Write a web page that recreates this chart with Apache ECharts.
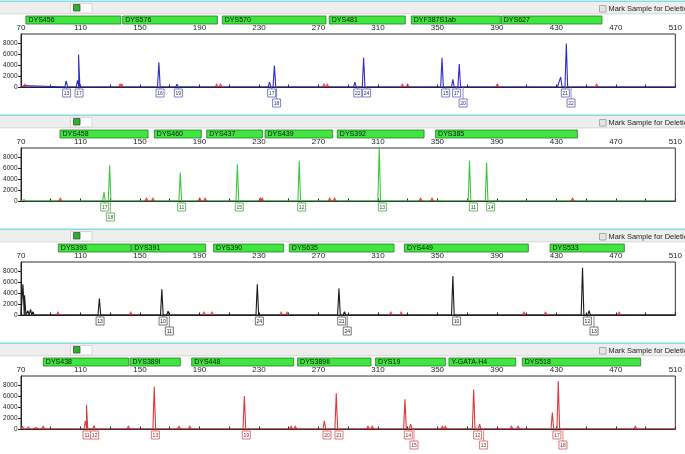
<!DOCTYPE html>
<html><head><meta charset="utf-8">
<script src="https://cdn.jsdelivr.net/npm/echarts@6/dist/echarts.min.js"></script>
<style>html,body{margin:0;padding:0;background:#fff}#c{width:685px;height:454px}</style>
</head><body><div id="c"></div>
<script>
// ---------- shared axis data ----------
const X_MIN = 70, X_MAX = 510;
const xTickValues = [70,90,110,130,150,170,190,210,230,250,270,290,310,330,350,370,390,410,430,450,470,490,510];
const xLabelValues = [70,110,150,190,230,270,310,350,390,430,470,510];
const yLabelValues = [0,2000,4000,6000,8000];
const Y_MAX = 9640;

// ---------- panel 1 (blue) ----------
const blueLoci = ['DYS456','DYS576','DYS570','DYS481','DYF387S1ab','DYS627'];
const blueLociStart = [73.3,137.8,204.2,275.5,330.2,390.2];
const blueLociEnd   = [136.6,200.9,273.3,326.2,389.5,457.3];
const bluePeakBp     = [72,   100.4,108.0,108.7,162.7,174.9,216, 237.1,240.4,294.5,300.4,349, 353.1,360.4,364.7,429.8,432.9,436.7];
const bluePeakHeight = [250,  1100, 1200, 5900, 4500, 500,  150, 900,  3900, 900,  5300, 200, 5300, 1400, 4200, 200,  1800, 7900];
const blueAllele     = ['',   '13', '',   '17', '16', '19', '',  '17', '18', '22', '24', '',  '15', '17', '20', '',   '21', '22'];
const blueRow        = [0,    1,    0,    1,    1,    1,    0,   1,    2,    1,    1,    0,   1,    1,    2,    0,    1,    2];
const blueBins = [72.7,136.6,137.8,201.6,204.2,273.8,276,326.4,330,390.2,457.1];

// ---------- panel 2 (green) ----------
const greenLoci = ['DYS458','DYS460','DYS437','DYS439','DYS392','DYS385'];
const greenLociStart = [96,158.9,193.8,232.7,280.9,346.4];
const greenLociEnd   = [154.7,190.2,230.9,277.8,338.7,440.9];
const greenPeakBp     = [72,  74.5, 102.7,125.8,129.6,177.1,215.5,257.1,303, 310.9,371.6,383.1,447];
const greenPeakHeight = [250, 200,  300,  1600, 6500, 5200, 6700, 7300, 200, 9900, 7300, 7000, 150];
const greenAllele     = ['',  '',   '',   '17', '18', '11', '15', '12', '',  '13', '11', '14', ''];
const greenRow        = [0,   0,    0,    1,    2,    1,    1,    1,    0,   1,    1,    1,    0];
const greenBins = [96.4,154.4,158.7,190.2,193.8,231,232.2,277.6,280.9,338.7,346.4,440.9];

// ---------- panel 3 (black) ----------
const blackLoci = ['DYS393','DYS391','DYS390','DYS635','DYS449','DYS533'];
const blackLociStart = [94.9,143.8,198.4,248.9,325.6,422.7];
const blackLociEnd   = [143.3,193.1,245.1,318.7,408.2,472.2];
const blackPeakBp     = [71.3, 72.4, 74.6, 76.4, 78,  118.2,122.7,164.7,168.9,228.9,283.8,287.5,310.8,352.7,360.4,447.6,452];
const blackPeakHeight = [5600, 3600, 800,  1000, 600, 200,  3000, 4700, 700,  5600, 4800, 600,  150,  200,  7100, 8600, 800];
const blackAllele     = ['',   '',   '',   '',   '',  '',   '13', '10', '11', '24', '21', '24', '',   '',   '10', '12', '13'];
const blackRow        = [0,    0,    0,    0,    0,   0,    1,    1,    2,    1,    1,    2,    0,    0,    1,    1,    2];
const blackBins = [94.9,143.8,193.1,198.4,244.9,248.9,318.7,325.6,408.2,422.7,472.2];

// ---------- panel 4 (red) ----------
const redLoci = ['DYS438','DYS389I','DYS448','DYS389II','DYS19','Y-GATA-H4','DYS518'];
const redLociStart = [84.9,142.7,183.8,254.4,306.4,355.3,404.2];
const redLociEnd   = [141.8,176.2,251.8,303.3,352.9,399.8,483.1];
const redPeakBp     = [71,  73,  75,  77,  80,  83,  113.3,114,  119.1,159.6,214.9,220.2,274, 282, 324.9,328.2,332, 374.4,378.4,427.3,431.3];
const redPeakHeight = [500, 300, 400, 300, 250, 200, 1500, 4400, 600,  7700, 150,  6000, 1500,6500,300,  5400, 900, 7200, 900,  3000, 8700];
const redAllele     = ['',  '',  '',  '',  '',  '',  '',   '11', '12', '13', '',   '19', '20','21', '',   '14', '15','12', '13', '17', '18'];
const redRow        = [0,   0,   0,   0,   0,   0,   0,    1,    1,    1,    0,    1,    1,   1,   0,    1,    2,   1,    2,    1,    2];
const redBins = [84.9,142.2,176.2,183.5,251.6,254.4,303.3,306.2,353.3,355.3,399.8,404.2,483.1];

// ---------- build ----------
const FONT = 'Liberation Sans, Arial, sans-serif';
const panels = [
  {loci:blueLoci, ls:blueLociStart, le:blueLociEnd, bp:bluePeakBp, h:bluePeakHeight, al:blueAllele, row:blueRow, bins:blueBins,
   color:'#2c2cd2', box:'#5a62b4', txt:'#2a2a70'},
  {loci:greenLoci, ls:greenLociStart, le:greenLociEnd, bp:greenPeakBp, h:greenPeakHeight, al:greenAllele, row:greenRow, bins:greenBins,
   color:'#3fc83f', box:'#4aa84a', txt:'#1d5a1d'},
  {loci:blackLoci, ls:blackLociStart, le:blackLociEnd, bp:blackPeakBp, h:blackPeakHeight, al:blackAllele, row:blackRow, bins:blackBins,
   color:'#1a1a1a', box:'#555555', txt:'#222222'},
  {loci:redLoci, ls:redLociStart, le:redLociEnd, bp:redPeakBp, h:redPeakHeight, al:redAllele, row:redRow, bins:redBins,
   color:'#e0383a', box:'#d85858', txt:'#8a1e1e'}
];

const HALF = 0.9;
function traceData(bp, h) {
  const idx = bp.map((_, i) => i).sort((a, b) => bp[a] - bp[b]);
  const pts = [[X_MIN, 0]];
  idx.forEach(i => { pts.push([bp[i] - HALF, 0], [bp[i], h[i]], [bp[i] + HALF, 0]); });
  pts.push([X_MAX, 0]);
  return pts;
}

const grids = [], xAxes = [], yAxes = [], series = [], graphics = [];
const PANEL_STEP = 114;

panels.forEach((p, k) => {
  const T = PANEL_STEP * k;
  // chrome
  graphics.push(
    {type:'rect', shape:{x:0, y:T+2, width:685, height:12}, style:{fill:'#eeeeee'}, silent:true},
    {type:'rect', shape:{x:0, y:T+0.5, width:685, height:1.6}, style:{fill:'#86dbe4'}, silent:true},
    {type:'rect', shape:{x:0, y:T+13.5, width:685, height:0.8}, style:{fill:'#d0d0d0'}, silent:true},
    {type:'rect', shape:{x:70.5, y:T+3.5, width:21.5, height:9.5}, style:{fill:'#ffffff', stroke:'#cfcfcf', lineWidth:0.8}, silent:true},
    {type:'rect', shape:{x:73.5, y:T+4.5, width:6.5, height:6.5}, style:{fill:'#22b822', stroke:'#4a4a4a', lineWidth:0.8}, silent:true},
    {type:'rect', shape:{x:599.5, y:T+5.5, width:6.5, height:6.5}, style:{fill:'#e6e6e6', stroke:'#9a9a9a', lineWidth:0.8}, silent:true},
    {type:'text', x:608.5, y:T+8.8, style:{text:'Mark Sample for Deletion', font:'7.4px ' + FONT, fill:'#222', verticalAlign:'middle'}, silent:true}
  );
  const gPlot = grids.length;
  grids.push({left:21, right:4, top:T+34, height:53, show:true, borderColor:'#333', borderWidth:1, backgroundColor:'#fff'});
  grids.push({left:21, right:4, top:T+16, height:8});
  grids.push({left:21, right:4, top:T+83, height:20});

  xAxes.push({gridIndex:gPlot, type:'value', min:X_MIN, max:X_MAX, position:'top',
    axisLine:{show:true, lineStyle:{color:'#222', width:1}},
    axisTick:{show:true, customValues:xTickValues, length:2.5, lineStyle:{color:'#222'}},
    axisLabel:{customValues:xLabelValues, fontSize:8, color:'#222', margin:2.5, fontFamily:FONT,
      showMinLabel:true, showMaxLabel:true, formatter:v => String(v)},
    splitLine:{show:false}});
  yAxes.push({gridIndex:gPlot, type:'value', min:0, max:Y_MAX,
    axisLine:{show:true, lineStyle:{color:'#222', width:1}},
    axisTick:{show:true, customValues:yLabelValues, length:3, lineStyle:{color:'#222'}},
    axisLabel:{customValues:yLabelValues, fontSize:6.5, color:'#222', margin:3.5, fontFamily:FONT,
      formatter:v => String(v)},
    splitLine:{show:false}});
  xAxes.push({gridIndex:gPlot+1, type:'value', min:X_MIN, max:X_MAX, show:false});
  yAxes.push({gridIndex:gPlot+1, type:'value', min:0, max:1, show:false});
  xAxes.push({gridIndex:gPlot+2, type:'value', min:X_MIN, max:X_MAX, show:false});
  yAxes.push({gridIndex:gPlot+2, type:'value', min:0, max:2, inverse:true, show:false});

  // trace
  series.push({type:'line', xAxisIndex:gPlot, yAxisIndex:gPlot, data:traceData(p.bp, p.h),
    showSymbol:false, symbol:'none', clip:true, z:3,
    lineStyle:{color:p.color, width:1.1}, emphasis:{disabled:true}, animation:false});
  // bin markers
  series.push({type:'scatter', xAxisIndex:gPlot, yAxisIndex:gPlot, data:p.bins.map(b => [b, 0]),
    symbol:'triangle', symbolSize:[4.5,4], symbolOffset:[0,-2], itemStyle:{color:'#e42a2a'}, z:4,
    clip:false, emphasis:{disabled:true}, animation:false});
  // locus bars
  const loci = p.loci;
  series.push({type:'custom', xAxisIndex:gPlot+1, yAxisIndex:gPlot+1, clip:false,
    data:p.ls.map((s, i) => [s, p.le[i]]), animation:false,
    renderItem:(params, api) => {
      const s = api.coord([api.value(0), 0]);
      const e = api.coord([api.value(1), 0]);
      const cs = params.coordSys;
      return {type:'group', children:[
        {type:'rect', shape:{x:s[0], y:cs.y, width:e[0]-s[0], height:cs.height},
         style:{fill:'#3ee63e', stroke:'#2c7a2c', lineWidth:0.8}},
        {type:'text', style:{text:loci[params.dataIndex], x:s[0]+2.5, y:cs.y+cs.height/2+0.5,
          verticalAlign:'middle', fill:'#111', font:'7px ' + FONT}}
      ]};
    }});
  // allele labels
  const lab = [];
  p.al.forEach((a, i) => { if (a) lab.push({value:[p.bp[i], p.row[i]], name:a}); });
  const box = p.box, txt = p.txt;
  series.push({type:'custom', xAxisIndex:gPlot+2, yAxisIndex:gPlot+2, clip:false, z:5,
    data:lab, animation:false,
    renderItem:(params, api) => {
      const c = api.coord([api.value(0), api.value(1)]);
      const base = api.coord([api.value(0), 0.4])[1];
      const name = lab[params.dataIndex].name;
      return {type:'group', children:[
        {type:'line', shape:{x1:c[0], y1:base, x2:c[0], y2:c[1]-4}, style:{stroke:box, lineWidth:0.7}},
        {type:'rect', shape:{x:c[0]-4, y:c[1]-4, width:8, height:8}, style:{fill:'#fff', stroke:box, lineWidth:0.8}},
        {type:'text', style:{text:name, x:c[0], y:c[1]+0.3, align:'center', verticalAlign:'middle',
          fill:txt, font:'5px ' + FONT}}
      ]};
    }});
});

const chart = echarts.init(document.getElementById('c'), null, {renderer:'canvas'});
chart.setOption({
  animation:false,
  backgroundColor:'#ffffff',
  grid:grids, xAxis:xAxes, yAxis:yAxes, series:series,
  graphic:{elements:graphics}
});
</script>
</body></html>
